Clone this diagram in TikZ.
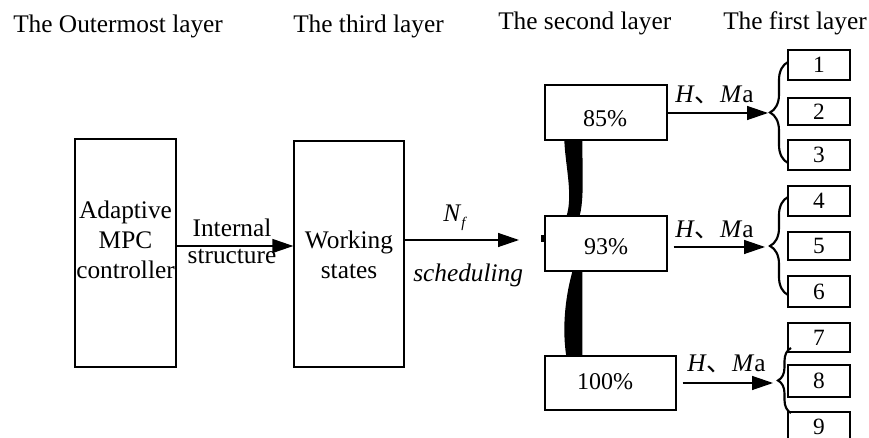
\documentclass[tikz,border=0pt]{standalone}
\usepackage{fontspec}
\setmainfont{Liberation Serif}
\newfontfamily\cjk{Noto Sans CJK SC}
\usetikzlibrary{arrows.meta,decorations.pathreplacing,calc}
\newcommand\hma{\textit{H}{\cjk 、}\textit{M}a}
\begin{document}
\begin{tikzpicture}[x=0.75pt,y=-0.75pt,
  every node/.style={font=\fontsize{19}{22.5}\selectfont, inner sep=0pt},
  box/.style={draw, line width=1pt},
  pbox/.style={box, minimum width=91.5pt, minimum height=41.25pt},
  sbox/.style={box, minimum width=46.5pt, font=\fontsize{17.5}{20}\selectfont},
  pct/.style={font=\fontsize{18}{20}\selectfont},
  arr/.style={line width=1pt, -{Triangle[length=15.75pt,width=10.5pt]}},
  brc/.style={decorate, line width=1.6pt, decoration={brace, amplitude=#1}},
  band/.style={fill=black}]
\useasboundingbox[fill=white] (0,0) rectangle (869,438);

% titles
\node[anchor=base west] (l4) at (13,33) {The Outermost layer};
\node[anchor=base west] (l3) at (293,33) {The third layer};
\node[anchor=base west] (l2) at (498,30) {The second layer};
\node[anchor=base west] (l1) at (723,30) {The first layer};

% outer boxes
\node[box, minimum width=75.75pt, minimum height=171pt] (adapt) at (125.5,253) {};
\node[align=center] (adaptT) at (125.5,240) {Adaptive\\MPC\\controller};
\node[box, minimum width=82.5pt, minimum height=169.5pt] (work) at (349,254) {};
\node[align=center] (workT) at (349,255) {Working\\states};

% second layer boxes
\node[pbox] (p85) at (606,112.5) {};
\node[pct] (t85) at (605,119) {85\%};
\node[pbox] (p93) at (606,243.5) {};
\node[pct] (t93) at (606,247) {93\%};
\node[box, minimum width=98.25pt, minimum height=40.5pt] (p100) at (610.5,383) {};
\node[pct] (t100) at (605,382) {100\%};

% first layer boxes
\node[sbox, minimum height=22.5pt]  (b1) at (819,65)    {1};
\node[sbox, minimum height=20.25pt] (b2) at (819,111.5) {2};
\node[sbox, minimum height=22.5pt]  (b3) at (819,155)   {3};
\node[sbox, minimum height=22.5pt]  (b4) at (819,201)   {4};
\node[sbox, minimum height=21pt]    (b5) at (819,246)   {5};
\node[sbox, minimum height=23.25pt] (b6) at (819,291.5) {6};
\node[sbox, minimum height=21.75pt] (b7) at (819,337.5) {7};
\node[sbox, minimum height=24pt]    (b8) at (819,381)   {8};
\node[sbox, minimum height=22.5pt]  (b9) at (819,427)   {9};

% adaptive -> working
\draw[arr] (adapt.east |- 0,246) -- (work.west |- 0,246);
\node[anchor=base] (intl) at (232,237) {Internal};
\node[anchor=base] (strc) at (232,264) {structure};

% working -> second layer
\coordinate (nfend) at (519,240);
\draw[arr] (work.east |- nfend) -- (nfend);
\node[anchor=base west] (nf) at (443,222) {\textit{N}\raisebox{-4pt}{\fontsize{11}{11}\selectfont\textit{f}}};
\node[anchor=base west] (sch) at (413,282) {\textit{scheduling}};
\fill[shift={(p93.west)}] (-3,-8.5) rectangle (0,-1.5);

% thick bands between second layer boxes
\fill[band, shift={(p85.south west)}] (20,0) -- (38,0) .. controls (38,30) and (40,60) .. (35,76) -- (22,76) .. controls (29,55) and (21,25) .. (20,0) -- cycle;
\fill[band, shift={(p93.south west)}] (28,0) -- (38,0) -- (38,85) -- (22,85) .. controls (18,59) and (20,29) .. (28,0) -- cycle;

% arrows to braces
\coordinate (tip1) at (768,113);
\coordinate (tip2) at (765,247);
\coordinate (tip3) at (773,383);
\draw[arr] (p85.east |- tip1) -- (tip1);
\draw[arr] ([xshift=4.5pt]p93.east |- tip2) -- (tip2);
\draw[arr] ([xshift=4.5pt]p100.east |- tip3) -- (tip3);
\node[anchor=base west] (h1) at (675,103) {\hma};
\node[anchor=base west] (h2) at (675,238) {\hma};
\node[anchor=base west] (h3) at (687,372) {\hma};

% braces
\coordinate (br1a) at (788,163); \coordinate (br1b) at (788,62);
\coordinate (br2a) at (788,295); \coordinate (br2b) at (788,197);
\coordinate (br3a) at (791,413); \coordinate (br3b) at (791,348);
\draw[brc=13.5pt] (br1a) -- (br1b);
\draw[brc=13.5pt] (br2a) -- (br2b);
\draw[brc=9.75pt] (br3a) -- (br3b);
\end{tikzpicture}
\end{document}
